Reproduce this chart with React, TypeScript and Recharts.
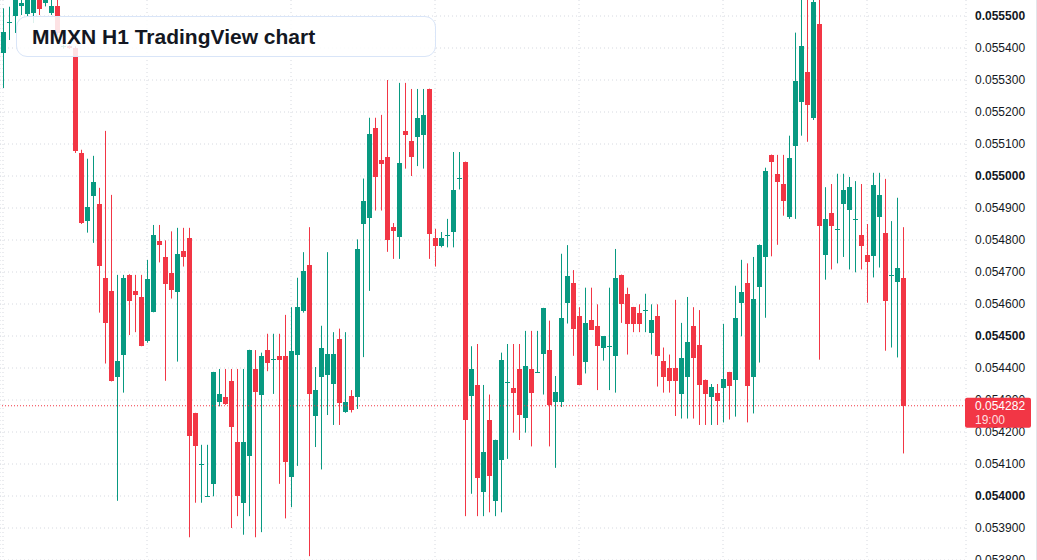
import React from "react";
import { ComposedChart, Bar, XAxis, YAxis, CartesianGrid, ReferenceLine } from "recharts";

const GREEN = "#089981";
const RED = "#f23645";
const GRID = "#d6d9e0";
const TEXT = "#131722";
const FONT = "'Liberation Sans', Arial, sans-serif";

// hourly OHLC, oldest first
const OPEN = [
  0.055383, 0.055481, 0.055501, 0.055531, 0.055506, 0.05551, 0.055562, 0.05554, 0.05551, 0.055531,
  0.055402, 0.055406, 0.0554, 0.055073, 0.05486, 0.054939, 0.054913, 0.054682, 0.054641, 0.054371,
  0.054442, 0.054691, 0.054641, 0.054622, 0.054484, 0.054576, 0.054796, 0.054747, 0.054698, 0.054636,
  0.054766, 0.054807, 0.054259, 0.0541, 0.053999, 0.054036, 0.054295, 0.054309, 0.054359, 0.054168,
  0.053977, 0.054126, 0.054397, 0.054317, 0.054456, 0.054429, 0.054438, 0.054438, 0.054059, 0.054442,
  0.054579, 0.054722, 0.05425, 0.054371, 0.054378, 0.05435, 0.054492, 0.054261, 0.054314, 0.054309,
  0.05485, 0.054869, 0.055151, 0.05505, 0.055059, 0.05484, 0.05481, 0.055141, 0.055109, 0.055121,
  0.055129, 0.055272, 0.054807, 0.054782, 0.054815, 0.054824, 0.054994, 0.055044, 0.054314, 0.054347,
  0.054012, 0.054238, 0.053984, 0.054112, 0.054356, 0.054338, 0.054397, 0.054244, 0.054397, 0.054386,
  0.054445, 0.054456, 0.054295, 0.054295, 0.054604, 0.054666, 0.054563, 0.05442, 0.05455, 0.054531,
  0.054461, 0.05447, 0.054438, 0.054691, 0.054632, 0.05459, 0.054573, 0.05458, 0.05451, 0.054563,
  0.054423, 0.054401, 0.054401, 0.054319, 0.054371, 0.054531, 0.054472, 0.054363, 0.05431, 0.054323,
  0.054336, 0.054387, 0.054364, 0.054604, 0.054666, 0.054373, 0.054654, 0.054747, 0.055066, 0.055007,
  0.054975, 0.054873, 0.055095, 0.055232, 0.055325, 0.055182, 0.055475, 0.054754, 0.054885, 0.054835,
  0.054913, 0.054895, 0.054866, 0.054816, 0.054753, 0.054751, 0.054871, 0.054823, 0.05469, 0.05467,
  0.054682,
];

const HIGH = [
  0.055524, 0.055529, 0.055565, 0.055555, 0.05557, 0.05557, 0.05557, 0.055575, 0.05556, 0.05556,
  0.05541, 0.05541, 0.055405, 0.055082, 0.055054, 0.055063, 0.054963, 0.055141, 0.054941, 0.054691,
  0.054691, 0.054693, 0.054691, 0.054691, 0.054738, 0.054847, 0.054847, 0.054799, 0.054827, 0.054838,
  0.054838, 0.054838, 0.05426, 0.05416, 0.05416, 0.054388, 0.054397, 0.054397, 0.054397, 0.054397,
  0.054397, 0.054457, 0.054456, 0.054448, 0.054507, 0.054507, 0.054507, 0.054566, 0.05459, 0.054682,
  0.054762, 0.05484, 0.054403, 0.054532, 0.054762, 0.054512, 0.054523, 0.054512, 0.054331, 0.054802,
  0.054992, 0.055182, 0.055182, 0.055191, 0.0553, 0.054853, 0.055291, 0.055291, 0.055272, 0.055272,
  0.055272, 0.055273, 0.054835, 0.054825, 0.054866, 0.055075, 0.055075, 0.055045, 0.054468, 0.054475,
  0.054347, 0.054317, 0.054176, 0.054448, 0.054475, 0.054475, 0.054475, 0.054516, 0.054516, 0.054516,
  0.054588, 0.054548, 0.054375, 0.054757, 0.054784, 0.054706, 0.05459, 0.054651, 0.054651, 0.054599,
  0.0545, 0.054651, 0.054772, 0.054692, 0.054651, 0.054591, 0.054599, 0.054632, 0.054599, 0.054599,
  0.054464, 0.054442, 0.054613, 0.054541, 0.054622, 0.05459, 0.054581, 0.054364, 0.05435, 0.05435,
  0.054538, 0.054388, 0.054657, 0.054738, 0.054727, 0.054747, 0.054786, 0.055026, 0.055067, 0.055066,
  0.055066, 0.055126, 0.055448, 0.055575, 0.05557, 0.05558, 0.05557, 0.054965, 0.054975, 0.055007,
  0.055007, 0.054997, 0.054984, 0.054975, 0.05485, 0.05501, 0.05501, 0.054991, 0.054859, 0.054932,
  0.05484,
];

const LOW = [
  0.055275, 0.055425, 0.055447, 0.055503, 0.0555, 0.055478, 0.055503, 0.05553, 0.055503, 0.05544,
  0.055398, 0.055397, 0.055072, 0.05485, 0.054823, 0.054791, 0.054573, 0.054414, 0.054358, 0.053985,
  0.054323, 0.054503, 0.054512, 0.054468, 0.054479, 0.054574, 0.05473, 0.05436, 0.054617, 0.05442,
  0.054717, 0.053871, 0.053979, 0.053979, 0.053998, 0.053999, 0.05428, 0.054285, 0.0539, 0.053937,
  0.053879, 0.053937, 0.053871, 0.053887, 0.05439, 0.054319, 0.054038, 0.05393, 0.053965, 0.054094,
  0.054573, 0.053812, 0.054153, 0.054083, 0.054253, 0.054222, 0.054222, 0.05426, 0.054261, 0.054272,
  0.054434, 0.054641, 0.054892, 0.054892, 0.054763, 0.054741, 0.054741, 0.055023, 0.055, 0.055031,
  0.055023, 0.054741, 0.054717, 0.054777, 0.054777, 0.054777, 0.054958, 0.053937, 0.054007, 0.053937,
  0.053937, 0.053949, 0.053937, 0.053949, 0.054116, 0.054198, 0.054175, 0.054198, 0.054155, 0.054385,
  0.054317, 0.054155, 0.054088, 0.054278, 0.054539, 0.054438, 0.054346, 0.054383, 0.054519, 0.054331,
  0.054423, 0.054331, 0.054323, 0.054541, 0.054442, 0.054512, 0.054512, 0.054512, 0.054442, 0.054342,
  0.054323, 0.054323, 0.05425, 0.054242, 0.054242, 0.054242, 0.054222, 0.054222, 0.054222, 0.054222,
  0.05423, 0.054239, 0.054248, 0.054499, 0.05423, 0.054258, 0.054417, 0.054557, 0.054749, 0.054785,
  0.054876, 0.054866, 0.054866, 0.055126, 0.055107, 0.055175, 0.054426, 0.054676, 0.054708, 0.054727,
  0.054747, 0.054708, 0.054699, 0.054708, 0.054604, 0.054683, 0.054714, 0.054454, 0.054464, 0.054433,
  0.054133,
];

const CLOSE = [
  0.05545, 0.055481, 0.05556, 0.05554, 0.055562, 0.055562, 0.055521, 0.05557, 0.055531, 0.055447,
  0.055406, 0.0554, 0.055079, 0.054852, 0.054903, 0.054981, 0.054719, 0.054542, 0.05436, 0.054422,
  0.054682, 0.05461, 0.054628, 0.05447, 0.054679, 0.054816, 0.054785, 0.054663, 0.054645, 0.054757,
  0.054747, 0.054186, 0.054157, 0.0541, 0.053999, 0.054387, 0.054319, 0.054286, 0.054217, 0.053999,
  0.054168, 0.054456, 0.054326, 0.054438, 0.054417, 0.054429, 0.054426, 0.054107, 0.054453, 0.05459,
  0.054702, 0.054319, 0.054331, 0.054464, 0.054445, 0.054445, 0.054292, 0.054295, 0.054269, 0.054772,
  0.054922, 0.055132, 0.054998, 0.055039, 0.054801, 0.054829, 0.055041, 0.055129, 0.055058, 0.055182,
  0.055191, 0.05482, 0.054782, 0.054807, 0.054815, 0.054956, 0.054994, 0.054236, 0.054397, 0.054055,
  0.054137, 0.054062, 0.054175, 0.054425, 0.054356, 0.054323, 0.054253, 0.054406, 0.054323, 0.054386,
  0.054588, 0.054285, 0.054325, 0.054557, 0.054688, 0.054523, 0.054347, 0.054541, 0.05452, 0.05447,
  0.054499, 0.05447, 0.054682, 0.054599, 0.054539, 0.054539, 0.054539, 0.05458, 0.05455, 0.054438,
  0.054371, 0.05436, 0.05436, 0.054432, 0.054481, 0.05443, 0.054348, 0.054319, 0.054342, 0.054298,
  0.054366, 0.054345, 0.054557, 0.054637, 0.054345, 0.054616, 0.054785, 0.055016, 0.055045, 0.054982,
  0.054923, 0.055057, 0.055297, 0.055406, 0.055223, 0.055544, 0.054845, 0.054866, 0.054845, 0.054835,
  0.054956, 0.054965, 0.054866, 0.054782, 0.05473, 0.054972, 0.054941, 0.05461, 0.05469, 0.054713,
  0.054282,
];

// price scale levels, every 0.0001
const PRICE_LEVELS = [
  0.0538, 0.0539, 0.054, 0.0541, 0.0542, 0.0543, 0.0544, 0.0545, 0.0546,
  0.0547, 0.0548, 0.0549, 0.055, 0.0551, 0.0552, 0.0553, 0.0554, 0.0555,
];
// bars that open a new day
const DAY_STARTS = [0, 24, 48, 72, 96, 120, 144];
const LAST_PRICE = 0.054282;
const TIME_LEFT = "19:00";
const EMPTY_SLOTS = 10; // blank space right of the last bar

const rows: any[] = OPEN.map((open, i) => ({
  i,
  open,
  high: HIGH[i],
  low: LOW[i],
  close: CLOSE[i],
}));
for (let k = 0; k < EMPTY_SLOTS; k++) rows.push({ i: OPEN.length + k });

const Candle = (props: any) => {
  const { x, y, width, height, payload } = props;
  if (!payload || payload.open == null) return null;
  const { open, high, low, close } = payload;
  const yTop = Math.min(y, y + height);
  const yBot = Math.max(y, y + height);
  const span = high - low;
  const toY = (v: number) => (span === 0 ? yTop : yTop + ((high - v) / span) * (yBot - yTop));
  const color = close >= open ? GREEN : RED;
  const left = Math.round(x);
  const wickX = left + Math.floor(width / 2) + 0.5;
  const bodyTop = Math.round(toY(Math.max(open, close)));
  const bodyBot = Math.round(toY(Math.min(open, close)));
  return (
    <g>
      <line x1={wickX} x2={wickX} y1={toY(high)} y2={toY(low)} stroke={color} strokeWidth={1} />
      <rect x={left + 1} y={bodyTop} width={width - 1} height={Math.max(1, bodyBot - bodyTop)} fill={color} />
    </g>
  );
};

const PriceTick = (props: any) => {
  const { x, y, payload } = props;
  const v = payload.value as number;
  if (v === LAST_PRICE) {
    return (
      <g>
        <rect x={x - 1} y={y - 8} width={66} height={30} rx={2} fill={RED} />
        <text x={x + 9} y={y} dy="0.35em" fill="#ffffff" fontSize={12} fontFamily={FONT}>
          {v.toFixed(6)}
        </text>
        <text x={x + 9} y={y + 14.5} dy="0.35em" fill="#ffffff" fillOpacity={0.85} fontSize={12} fontFamily={FONT}>
          {TIME_LEFT}
        </text>
      </g>
    );
  }
  const major = Math.round(v * 10000) % 5 === 0;
  return (
    <text x={x + 9} y={y} dy="0.35em" fill={TEXT} fontSize={12} fontFamily={FONT} fontWeight={major ? "bold" : "normal"}>
      {v.toFixed(6)}
    </text>
  );
};

export default function App() {
  return (
    <div style={{ position: "absolute", left: 0, top: 0, width: 1037, height: 560, background: "#ffffff", overflow: "hidden" }}>
      <ComposedChart width={1037} height={560} data={rows} margin={{ top: 0, right: 0, left: 0, bottom: 0 }} barCategoryGap={0}>
        {/* day separators come from the hidden x axis ticks */}
        <CartesianGrid stroke={GRID} strokeDasharray="1 3" horizontalValues={PRICE_LEVELS} />
        <XAxis dataKey="i" type="category" hide ticks={DAY_STARTS} interval={0} />
        <YAxis
          orientation="right"
          width={71}
          domain={[0.0538, 0.05555]}
          allowDataOverflow
          ticks={[...PRICE_LEVELS, LAST_PRICE]}
          interval={0}
          axisLine={false}
          tickLine={false}
          tickSize={0}
          tickMargin={0}
          tick={<PriceTick />}
        />
        <ReferenceLine y={LAST_PRICE} stroke={RED} strokeDasharray="1 2" />
        <Bar dataKey={(d: any) => (d.low == null ? null : [d.low, d.high])} shape={<Candle />} isAnimationActive={false} />
      </ComposedChart>
      <div style={{ position: "absolute", left: 1036, top: 0, width: 1, height: 560, background: "#e3e5ea" }} />
      <div
        style={{
          position: "absolute",
          left: 16,
          top: 16,
          width: 420,
          height: 41,
          boxSizing: "border-box",
          border: "1.5px solid #d9e5f8",
          borderRadius: 11,
          background: "rgba(255,255,255,0.86)",
          display: "flex",
          alignItems: "center",
          paddingLeft: 15,
          fontFamily: FONT,
          fontWeight: "bold",
          fontSize: 21,
          color: TEXT,
        }}
      >
        MMXN H1 TradingView chart
      </div>
    </div>
  );
}
